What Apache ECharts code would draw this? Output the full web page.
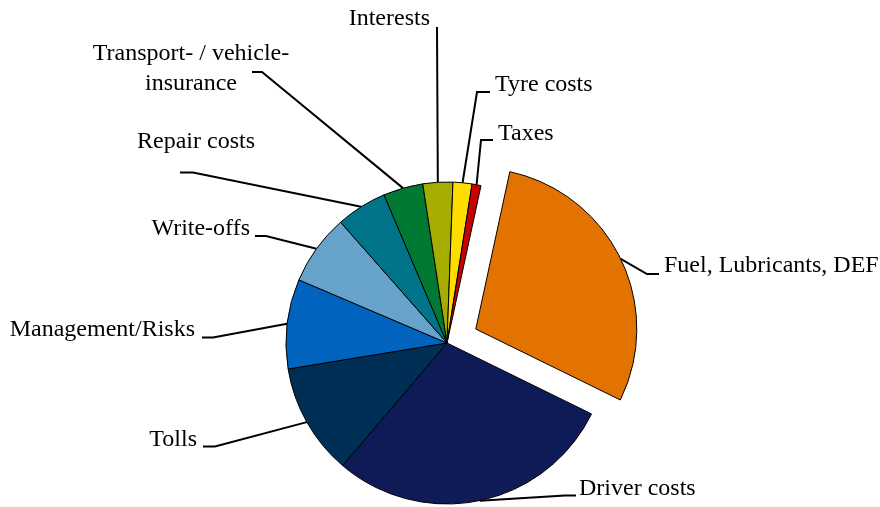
<!DOCTYPE html>
<html>
<head>
<meta charset="utf-8">
<script src="https://cdn.jsdelivr.net/npm/echarts@6/dist/echarts.min.js"></script>
<style>
html,body{margin:0;padding:0;background:#fff;}
#chart{width:880px;height:507px;}
</style>
</head>
<body>
<div id="chart"></div>
<script>
// ---- data (clockwise from the exploded slice) ----
const categories = [
  'Fuel, Lubricants, DEF',
  'Driver costs',
  'Tolls',
  'Management/Risks',
  'Write-offs',
  'Repair costs',
  'Transport- / vehicle-\ninsurance',
  'Interests',
  'Tyre costs',
  'Taxes'
];
const shares = [28.9, 29.0, 11.2, 9.0, 7.1, 5.1, 4.0, 3.0, 1.9, 0.9];
const explodedIndex = 0;

// ---- styles / layout ----
const colors = ['#E37300', '#0F1B56', '#002F56', '#0063BE', '#67A2CB',
                '#007589', '#007A33', '#A5AE00', '#FFDD00', '#C80000'];
const CENTER = [447, 343];
const RADIUS = 161;
const START_ANGLE = 77.8;   // echarts degrees (90 = 12 o'clock)
const OFFSET = 32;          // explode distance in px

// label layout: text anchor, alignment, and label-side leader points (elbow, end)
const labelLayouts = [
  {x: 664, y: 266, align: 'left',   elbow: [647, 274], end: [659, 274]},
  {x: 579, y: 489, align: 'left',   elbow: [565, 495.5], end: [576, 495.5]},
  {x: 197, y: 440, align: 'right',  elbow: [215, 446.5], end: [203, 446.5]},
  {x: 195, y: 330, align: 'right',  elbow: [213, 337.5], end: [202, 337.5]},
  {x: 250, y: 229, align: 'right',  elbow: [266, 236], end: [255, 236]},
  {x: 255, y: 142, align: 'right',  elbow: [193, 172.5], end: [180, 172.5]},
  {x: 191, y: 69,  align: 'center', elbow: [262, 72], end: [252, 72]},
  {x: 430, y: 19,  align: 'right',  elbow: [437, 28], end: [436, 28]},
  {x: 495, y: 85,  align: 'left',   elbow: [477, 92], end: [490, 92]},
  {x: 498, y: 134, align: 'left',   elbow: [481, 140], end: [493, 140]}
];

// centre of the exploded slice, moved outward along its mid-angle
const total = shares.reduce((a, b) => a + b, 0);
let before = 0;
for (let i = 0; i < explodedIndex; i++) before += shares[i];
const midDeg = (90 - START_ANGLE) + (before + shares[explodedIndex] / 2) / total * 360; // clockwise from top
const midRad = midDeg * Math.PI / 180;
const explodedCenter = [CENTER[0] + OFFSET * Math.sin(midRad), CENTER[1] - OFFSET * Math.cos(midRad)];

const HIDDEN = {color: 'rgba(0,0,0,0)', borderWidth: 0};

function makeData(showExploded) {
  return categories.map((name, i) => {
    const visible = (i === explodedIndex) === showExploded;
    return {
      name: name,
      value: shares[i],
      itemStyle: visible ? {color: colors[i]} : HIDDEN,
      label: {show: visible},
      labelLine: {show: visible}
    };
  });
}

function layoutLabel(params) {
  const L = labelLayouts[params.dataIndex];
  const pts = params.labelLinePoints;
  const anchor = pts ? pts[0].slice() : L.elbow.slice();
  return {
    x: L.x,
    y: L.y,
    align: L.align,
    verticalAlign: 'middle',
    labelLinePoints: [anchor, L.elbow.slice(), L.end.slice()]
  };
}

const common = {
  type: 'pie',
  radius: RADIUS,
  startAngle: START_ANGLE,
  clockwise: true,
  avoidLabelOverlap: false,
  silent: true,
  emphasis: {disabled: true},
  itemStyle: {borderColor: '#000', borderWidth: 1},
  label: {
    position: 'outside',
    color: '#000',
    fontFamily: 'Liberation Serif, Times New Roman, serif',
    fontSize: 24,
    lineHeight: 30,
    formatter: '{b}'
  },
  labelLine: {
    smooth: false,
    lineStyle: {color: '#000', width: 2}
  },
  labelLayout: layoutLabel
};

const chart = echarts.init(document.getElementById('chart'), null, {renderer: 'canvas'});
chart.setOption({
  animation: false,
  backgroundColor: '#ffffff',
  series: [
    Object.assign({}, common, {center: CENTER, data: makeData(false)}),
    Object.assign({}, common, {center: explodedCenter, data: makeData(true)})
  ]
});
</script>
</body>
</html>
